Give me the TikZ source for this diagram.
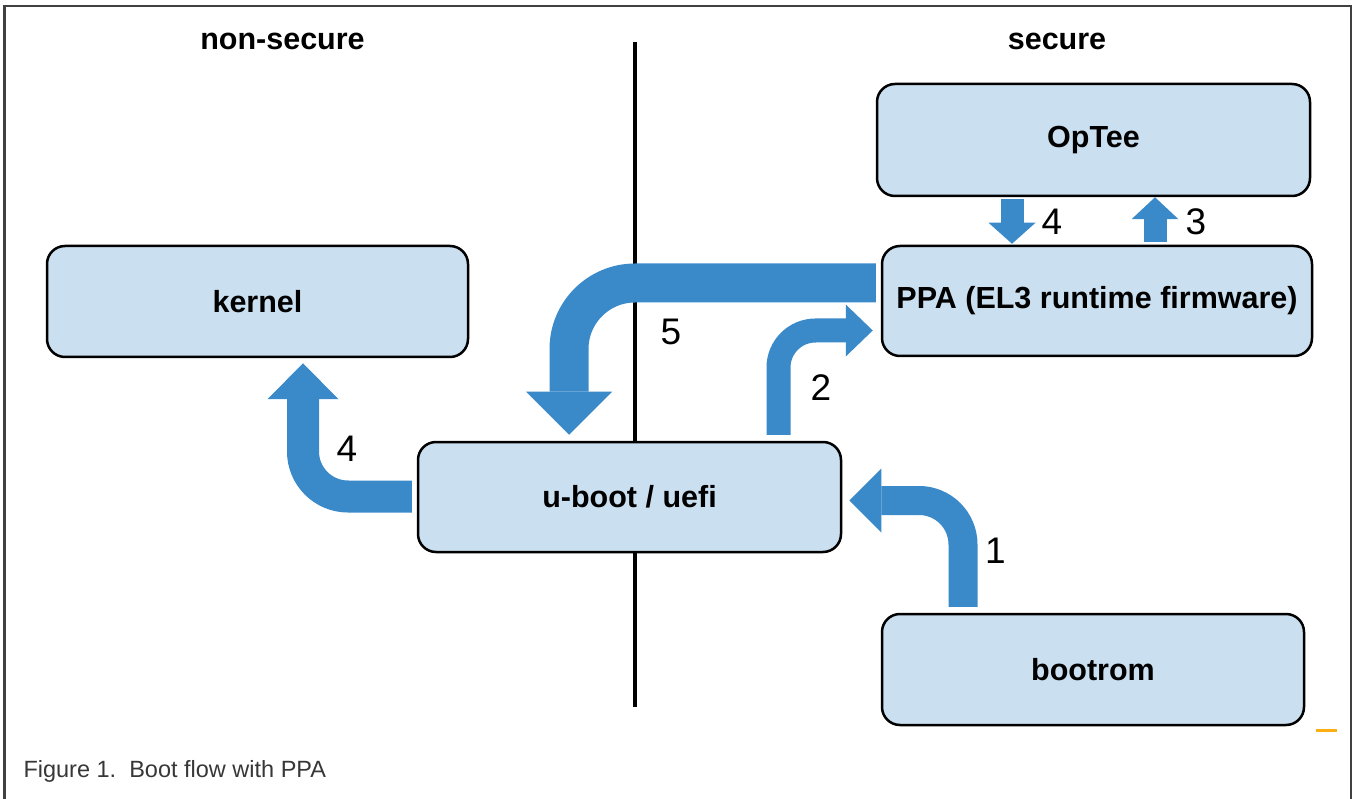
\documentclass[tikz,border=0pt]{standalone}
\usepackage{fontspec}
\setmainfont{Liberation Sans}
\usetikzlibrary{arrows.meta}
\definecolor{boxfill}{RGB}{202,223,240}
\definecolor{flowblue}{RGB}{58,137,201}
\definecolor{framegray}{RGB}{64,64,64}
\definecolor{capgray}{RGB}{55,55,55}
\definecolor{markorange}{RGB}{250,176,20}
\begin{document}
\begin{tikzpicture}[x=1pt,y=-1pt]
        \tikzstyle{box}=[rectangle,rounded corners=18pt,draw=black,line width=2.5pt,fill=boxfill,inner sep=0pt,font=\bfseries\fontsize{30.5}{36}\selectfont]
        \tikzstyle{side}=[anchor=base,font=\bfseries\fontsize{30.5}{36}\selectfont]
        \tikzstyle{num}=[anchor=base,font=\fontsize{37}{44}\selectfont]
        \tikzstyle{flow}=[draw=flowblue]
        \useasboundingbox (0,0) rectangle (1352,799);
        % frame, open at the bottom
        \draw[framegray,line width=2.5pt] (4.3,799) -- (4.3,6.2) -- (1351,6.2) -- (1351,799);
        \node[anchor=base west,text=capgray,font=\fontsize{23.5}{28}\selectfont] (caption) at (20,777) {Figure 1.\ \ Boot flow with PPA};
        \fill[markorange] (1316,729) rectangle (1337,732);
        % divider between the two worlds
        \coordinate (divtop) at (635,42);
        \coordinate (divbot) at (635,707);
        \draw[line width=3.5pt] (divtop) -- (divbot);
        \node[side] (nonsec) at (282.5,50) {non-secure};
        \node[side] (sec) at (1057,50) {secure};
       \begin{scope}
         \node [box,minimum width=421pt,minimum height=111pt] (kernel) at (257.5,301.5) {kernel};
         \node [box,minimum width=433pt,minimum height=112pt] (optee) at (1093.5,140) {OpTee};
         \node [box,minimum width=430pt,minimum height=110pt] (ppa) at (1097,301) {PPA (EL3 runtime firmware)};
         \node [box,minimum width=423pt,minimum height=110pt] (uboot) at (629.5,497) {u-boot / uefi};
         \node [box,minimum width=422pt,minimum height=111pt] (boot) at (1093,669.5) {bootrom};
         % numbered flow
         \draw[flow,line width=29pt,rounded corners=44pt,-{Triangle[width=64pt,length=32pt,line width=0pt]}]
           ([xshift=-130pt,yshift=6pt]boot.north) |- ([xshift=7pt,yshift=-3.5pt]uboot.east);
         \draw[flow,line width=24pt,rounded corners=37pt,-{Triangle[width=52pt,length=27pt,line width=0pt]}]
           ([xshift=149pt,yshift=6pt]uboot.north) |- ([xshift=-8pt,yshift=-29.5pt]ppa.west);
         \draw[flow,line width=23pt,-{Triangle[width=47pt,length=22pt,line width=0pt]}]
           ([xshift=58pt,yshift=3pt]ppa.north) -- ([xshift=61.5pt]optee.south);
         \draw[flow,line width=23pt,-{Triangle[width=47pt,length=21pt,line width=0pt]}]
           ([xshift=-81.5pt,yshift=-2pt]optee.south) -- ([xshift=-85pt,yshift=1pt]ppa.north);
         \draw[flow,line width=39pt,rounded corners=66pt,-{Triangle[width=86pt,length=43pt,line width=0pt]}]
           ([xshift=-5pt,yshift=18pt]ppa.west) -| ([xshift=-60.5pt,yshift=6pt]uboot.north);
         \draw[flow,line width=32pt,rounded corners=45pt,-{Triangle[width=71pt,length=36pt,line width=0pt]}]
           ([xshift=-5pt,yshift=0.5pt]uboot.west) -| ([xshift=45.5pt,yshift=-5pt]kernel.south);
         \node[num] (n1) at (995.5,563) {1};
         \node[num] (n2) at (821,400) {2};
         \node[num] (n3) at (1196,235) {3};
         \node[num] (n4a) at (1052,235) {4};
         \node[num] (n4b) at (347,461) {4};
         \node[num] (n5) at (671,345) {5};
        \end{scope}
\end{tikzpicture}
\end{document}
